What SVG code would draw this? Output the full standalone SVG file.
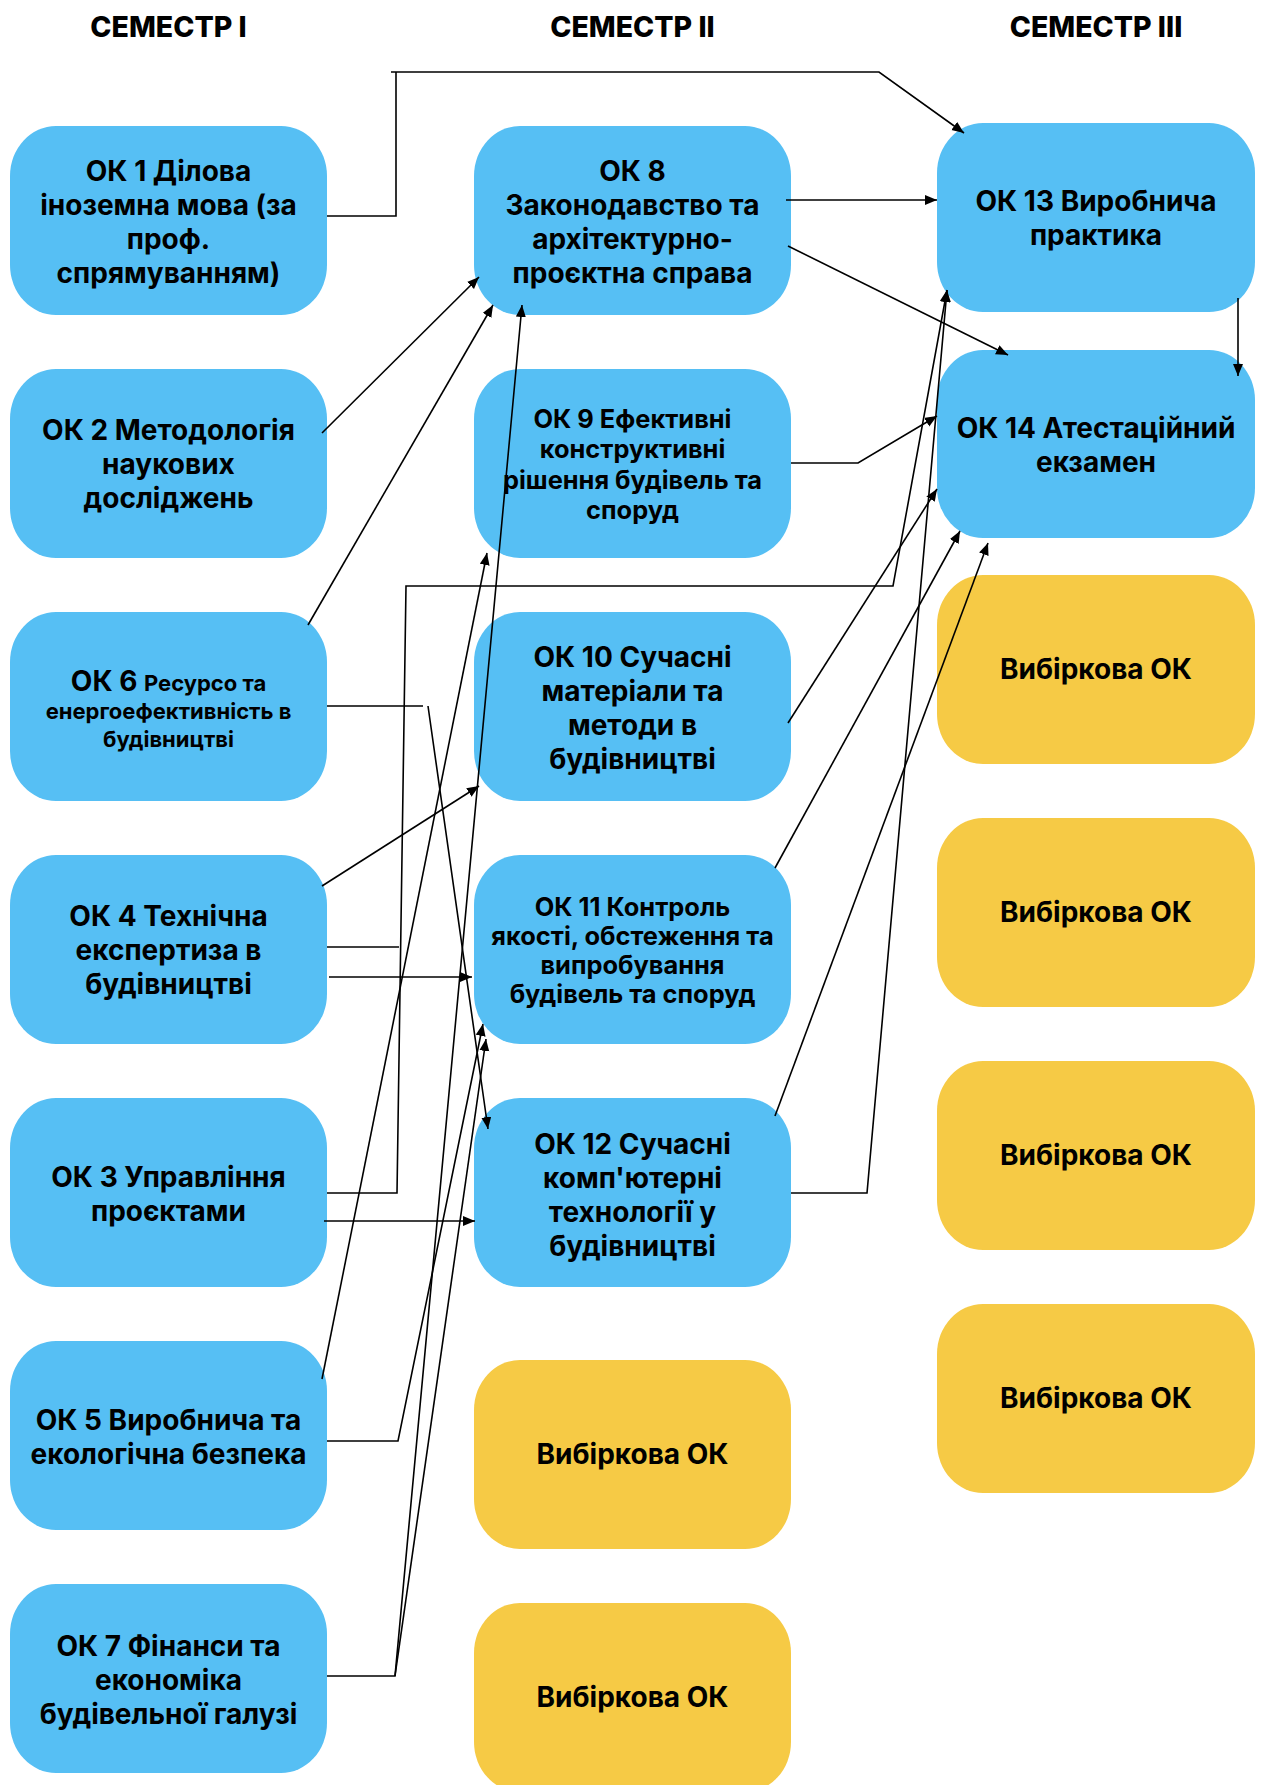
<svg xmlns="http://www.w3.org/2000/svg" width="1261" height="1785" viewBox="0 0 1261 1785">
<style>
.b{fill:#56BFF4}
.y{fill:#F6CA45}
text{font-family:Inter,"Open Sans","Liberation Sans",sans-serif;font-weight:700;fill:#000;text-anchor:middle}
.t{font-size:28px}
.s{font-size:25.4px}
.xs{font-size:22px}
.h{font-size:28.5px;font-weight:800}
.c path{fill:none;stroke:#000;stroke-width:1.6}
</style>
<defs>
<marker id="a" markerUnits="userSpaceOnUse" markerWidth="14" markerHeight="12" refX="12" refY="5" orient="auto">
<path d="M0,0 L12,5 L0,10 Z" fill="#000"/>
</marker>
</defs>
<rect width="1261" height="1785" fill="#fff"/>
<g id="headers">
<text class="h" x="168.5" y="37">СЕМЕСТР I</text>
<text class="h" x="632.5" y="37">СЕМЕСТР II</text>
<text class="h" x="1096" y="37">СЕМЕСТР III</text>
</g>
<g id="ok1"><rect class="b" x="10" y="126" width="317" height="189" rx="46" ry="50"/>
<text class="t" x="168.5" y="181">ОК 1 Ділова</text><text class="t" x="168.5" y="215">іноземна мова (за</text><text class="t" x="168.5" y="249">проф.</text><text class="t" x="168.5" y="283">спрямуванням)</text></g>
<g id="ok2"><rect class="b" x="10" y="369" width="317" height="189" rx="46" ry="50"/>
<text class="t" x="168.5" y="440">ОК 2 Методологія</text><text class="t" x="168.5" y="474">наукових</text><text class="t" x="168.5" y="508">досліджень</text></g>
<g id="ok6"><rect class="b" x="10" y="612" width="317" height="189" rx="46" ry="50"/>
<text x="168.5" y="691"><tspan class="t">ОК 6 </tspan><tspan class="xs">Ресурсо та</tspan></text><text class="xs" x="168.5" y="719">енергоефективність в</text><text class="xs" x="168.5" y="747">будівництві</text></g>
<g id="ok4"><rect class="b" x="10" y="855" width="317" height="189" rx="46" ry="50"/>
<text class="t" x="168.5" y="926">ОК 4 Технічна</text><text class="t" x="168.5" y="960">експертиза в</text><text class="t" x="168.5" y="994">будівництві</text></g>
<g id="ok3"><rect class="b" x="10" y="1098" width="317" height="189" rx="46" ry="50"/>
<text class="t" x="168.5" y="1187">ОК 3 Управління</text><text class="t" x="168.5" y="1221">проєктами</text></g>
<g id="ok5"><rect class="b" x="10" y="1341" width="317" height="189" rx="46" ry="50"/>
<text class="t" x="168.5" y="1430">ОК 5 Виробнича та</text><text class="t" x="168.5" y="1464">екологічна безпека</text></g>
<g id="ok7"><rect class="b" x="10" y="1584" width="317" height="189" rx="46" ry="50"/>
<text class="t" x="168.5" y="1656">ОК 7 Фінанси та</text><text class="t" x="168.5" y="1690">економіка</text><text class="t" x="168.5" y="1724">будівельної галузі</text></g>
<g id="ok8"><rect class="b" x="474" y="126" width="317" height="189" rx="46" ry="50"/>
<text class="t" x="632.5" y="181">ОК 8</text><text class="t" x="632.5" y="215">Законодавство та</text><text class="t" x="632.5" y="249">архітектурно-</text><text class="t" x="632.5" y="283">проєктна справа</text></g>
<g id="ok9"><rect class="b" x="474" y="369" width="317" height="189" rx="46" ry="50"/>
<text class="s" x="632.5" y="428">ОК 9 Ефективні</text><text class="s" x="632.5" y="458">конструктивні</text><text class="s" x="632.5" y="489">рішення будівель та</text><text class="s" x="632.5" y="519">споруд</text></g>
<g id="ok10"><rect class="b" x="474" y="612" width="317" height="189" rx="46" ry="50"/>
<text class="t" x="632.5" y="667">ОК 10 Сучасні</text><text class="t" x="632.5" y="701">матеріали та</text><text class="t" x="632.5" y="735">методи в</text><text class="t" x="632.5" y="769">будівництві</text></g>
<g id="ok11"><rect class="b" x="474" y="855" width="317" height="189" rx="46" ry="50"/>
<text class="s" x="632.5" y="916">ОК 11 Контроль</text><text class="s" x="632.5" y="945">якості, обстеження та</text><text class="s" x="632.5" y="974">випробування</text><text class="s" x="632.5" y="1003">будівель та споруд</text></g>
<g id="ok12"><rect class="b" x="474" y="1098" width="317" height="189" rx="46" ry="50"/>
<text class="t" x="632.5" y="1154">ОК 12 Сучасні</text><text class="t" x="632.5" y="1188">комп'ютерні</text><text class="t" x="632.5" y="1222">технології у</text><text class="t" x="632.5" y="1256">будівництві</text></g>
<g id="el2a"><rect class="y" x="474" y="1360" width="317" height="189" rx="46" ry="50"/>
<text class="t" x="632.5" y="1464">Вибіркова ОК</text></g>
<g id="el2b"><rect class="y" x="474" y="1603" width="317" height="189" rx="46" ry="50"/>
<text class="t" x="632.5" y="1707">Вибіркова ОК</text></g>
<g id="ok13"><rect class="b" x="937" y="123" width="318" height="189" rx="46" ry="50"/>
<text class="t" x="1096" y="211">ОК 13 Виробнича</text><text class="t" x="1096" y="245">практика</text></g>
<g id="ok14"><rect class="b" x="937" y="350" width="318" height="188" rx="46" ry="50"/>
<text class="t" x="1096" y="438">ОК 14 Атестаційний</text><text class="t" x="1096" y="472">екзамен</text></g>
<g id="el3a"><rect class="y" x="937" y="575" width="318" height="189" rx="46" ry="50"/>
<text class="t" x="1096" y="679">Вибіркова ОК</text></g>
<g id="el3b"><rect class="y" x="937" y="818" width="318" height="189" rx="46" ry="50"/>
<text class="t" x="1096" y="922">Вибіркова ОК</text></g>
<g id="el3c"><rect class="y" x="937" y="1061" width="318" height="189" rx="46" ry="50"/>
<text class="t" x="1096" y="1165">Вибіркова ОК</text></g>
<g id="el3d"><rect class="y" x="937" y="1304" width="318" height="189" rx="46" ry="50"/>
<text class="t" x="1096" y="1408">Вибіркова ОК</text></g>
<g id="connectors" class="c">
<path d="M327,216 H396 V72 M391,72 H879 L964,133" marker-end="url(#a)"/>
<path d="M786,200 H937" marker-end="url(#a)"/>
<path d="M788,246 L1008,355" marker-end="url(#a)"/>
<path d="M1238,298 V376" marker-end="url(#a)"/>
<path d="M322,433 L479,277" marker-end="url(#a)"/>
<path d="M308,625 L493,305" marker-end="url(#a)"/>
<path d="M327,1676 H395 L522,305" marker-end="url(#a)"/>
<path d="M322,1379 L487,553" marker-end="url(#a)"/>
<path d="M791,463 H858 L937,416" marker-end="url(#a)"/>
<path d="M327,1193 H397 L406,586 H893 L947,290" marker-end="url(#a)"/>
<path d="M327,947 H399"/>
<path d="M329,977 H472" marker-end="url(#a)"/>
<path d="M322,886 L479,786" marker-end="url(#a)"/>
<path d="M327,706 H423 M428,706 L488,1129" marker-end="url(#a)"/>
<path d="M788,723 L937,489" marker-end="url(#a)"/>
<path d="M775,868 L960,531" marker-end="url(#a)"/>
<path d="M775,1116 L988,543" marker-end="url(#a)"/>
<path d="M791,1193 H867 L947,290" marker-end="url(#a)"/>
<path d="M324,1221 H475" marker-end="url(#a)"/>
<path d="M327,1441 H398 L483,1024" marker-end="url(#a)"/>
<path d="M395,1676 L486,1039" marker-end="url(#a)"/>
</g>
</svg>
